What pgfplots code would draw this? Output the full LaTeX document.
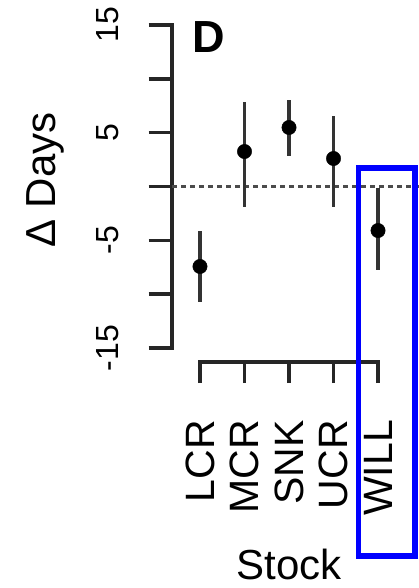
\documentclass[border=0pt]{standalone}
\usepackage{pgfplots}
\pgfplotsset{compat=1.18}
\usepackage{fontspec}
\setmainfont{Liberation Sans}
\definecolor{errgray}{gray}{0.2}
\definecolor{boxblue}{RGB}{0,0,255}
\begin{document}
\begin{tikzpicture}[x=1pt,y=1pt]
\path[use as bounding box] (0,0) rectangle (419,588);
\begin{axis}[
  scale only axis,
  width=247pt, height=323pt,
  at={(172pt,240pt)}, anchor=south west,
  xmin=-0.629, xmax=4.921, ymin=-15, ymax=15,
  axis x line=none, axis y line*=left,
  y axis line style={line width=3.4pt, line cap=rect, black!85},
  ytick={-15,-10,...,15},
  yticklabels={-15,,-5,,5,,15},
  tick align=outside,
  major tick length=23.5pt,
  ytick style={line width=3.4pt, black!85},
  yticklabel style={xshift=-30.5pt, rotate=90, anchor=base, inner sep=0pt, font=\fontsize{32}{38}\selectfont},
  clip=false,
]
\addplot[black!70, line width=3.4pt, dash pattern=on 4.5pt off 4.5pt] coordinates {(-0.629,0) (4.921,0)};
\addplot[only marks, mark=*, mark size=7.2pt, black,
  error bars/.cd, y dir=both, y explicit, error mark=none,
  error bar style={line width=3.6pt, errgray}]
  coordinates {
  (0,-7.43) += (0,3.25) -= (0,3.34)
  (1,3.25) += (0,4.64) -= (0,5.11)
  (2,5.48) += (0,2.51) -= (0,2.69)
  (3,2.60) += (0,3.99) -= (0,4.46)
  (4,-4.09) += (0,3.99) -= (0,3.62)
  };
\end{axis}
\begin{axis}[
  scale only axis, width=178pt, height=10pt,
  at={(200pt,226pt)}, anchor=south west,
  xmin=0, xmax=4, ymin=0, ymax=1,
  axis y line=none, axis x line*=bottom,
  x axis line style={line width=3.4pt, line cap=rect, black!85},
  xtick={0,...,4}, xticklabels={LCR,MCR,SNK,UCR,WILL},
  tick align=outside, major tick length=21pt,
  xtick style={line width=3.4pt, black!85},
  xticklabel style={yshift=-37pt, rotate=90, anchor=east, inner sep=0pt, font=\fontsize{41}{48}\selectfont},
]
\addplot[draw=none] coordinates {(0,0.5)};
\end{axis}
\node[rotate=90, anchor=base, inner sep=0pt, font=\fontsize{42}{50}\selectfont] at (55,408) {Δ Days};
\node[anchor=base, inner sep=0pt, font=\fontsize{42}{50}\selectfont] at (289,9) {Stock};
\node[anchor=base west, inner sep=0pt, font=\bfseries\fontsize{45}{54}\selectfont] at (192,535) {D};
\draw[boxblue, line width=5.5pt] (358.7,420) rectangle (415,32);
\end{tikzpicture}
\end{document}
